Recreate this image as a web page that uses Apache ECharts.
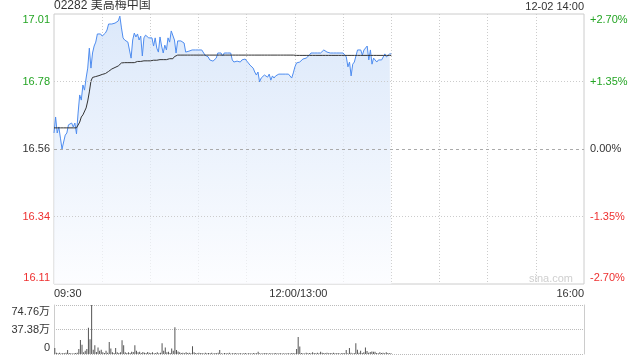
<!DOCTYPE html>
<html><head><meta charset="utf-8">
<script src="https://cdn.jsdelivr.net/npm/echarts@6/dist/echarts.min.js"></script>
<style>html,body{margin:0;padding:0;background:#fff}#c{width:640px;height:360px}</style>
</head><body><div id="c"></div>
<script>
const stockTitle = '02282 美高梅中国';
const stampText = '12-02 14:00';
const watermark = 'sina.com';
const prevClose = 16.56;
const pctMax = 2.7;
const pctStep = 1.35;
const timeTickLabels = ['09:30', '12:00/13:00', '16:00'];
const volumeTickLabels = ['0', '37.38万', '74.76万'];
const volumeMax = 747600;

const price = [
16.613,16.666,16.613,16.633,16.596,16.560,16.560,16.606,16.613,16.640,
16.636,16.646,16.633,16.646,16.610,16.679,16.739,16.722,16.772,16.755,
16.795,16.828,16.894,16.828,16.878,16.901,16.914,16.941,16.944,16.941,
16.934,16.928,16.944,16.954,16.974,16.971,16.974,16.971,16.977,16.974,
16.984,17.000,16.961,16.928,16.921,16.921,16.914,16.908,16.861,16.921,
16.944,16.931,16.941,16.921,16.934,16.868,16.928,16.937,16.931,16.928,
16.928,16.928,16.901,16.928,16.894,16.881,16.931,16.901,16.878,16.904,
16.888,16.928,16.914,16.951,16.957,16.921,16.878,16.918,16.918,16.918,
16.918,16.911,16.881,16.884,16.884,16.878,16.888,16.888,16.888,16.888,
16.888,16.888,16.888,16.888,16.871,16.865,16.865,16.855,16.855,16.851,
16.851,16.861,16.878,16.878,16.878,16.868,16.878,16.878,16.878,16.878,
16.878,16.855,16.848,16.851,16.851,16.845,16.848,16.855,16.858,16.858,
16.858,16.845,16.838,16.835,16.828,16.815,16.805,16.815,16.782,16.795,
16.798,16.805,16.805,16.798,16.808,16.788,16.802,16.795,16.802,16.808,
16.808,16.808,16.808,16.808,16.808,16.808,16.808,16.802,16.795,16.812,
16.832,16.845,16.848,16.848,16.851,16.858,16.858,16.861,16.861,16.871,
16.878,16.878,16.878,16.878,16.878,16.878,16.878,16.884,16.888,16.888,
16.881,16.884,16.878,16.878,16.878,16.878,16.878,16.878,16.878,16.878,
16.878,16.878,16.865,16.832,16.848,16.802,16.841,16.848,16.848,16.888,
16.888,16.888,16.871,16.888,16.894,16.901,16.855,16.888,16.841,16.861,
16.855,16.848,16.855,16.861,16.855,16.861,16.875,16.865,16.871,16.875,
16.875
];

const avgPrice = [
16.630,16.630,16.630,16.630,16.630,16.630,16.630,16.630,16.630,16.630,
16.630,16.630,16.630,16.630,16.630,16.630,16.649,16.666,16.673,16.679,
16.696,16.719,16.749,16.785,16.797,16.798,16.800,16.802,16.803,16.805,
16.807,16.808,16.810,16.813,16.817,16.820,16.825,16.827,16.830,16.833,
16.835,16.838,16.845,16.846,16.846,16.846,16.846,16.846,16.846,16.846,
16.846,16.850,16.850,16.850,16.850,16.850,16.852,16.852,16.852,16.852,
16.852,16.854,16.854,16.854,16.854,16.854,16.856,16.856,16.856,16.856,
16.856,16.859,16.859,16.859,16.859,16.866,16.871,16.871,16.871,16.871,
16.871,16.871,16.871,16.871,16.871,16.871,16.871,16.871,16.871,16.871,
16.871,16.871,16.871,16.871,16.871,16.871,16.871,16.871,16.871,16.871,
16.871,16.871,16.871,16.871,16.871,16.871,16.871,16.871,16.871,16.871,
16.871,16.871,16.871,16.871,16.871,16.871,16.871,16.871,16.871,16.871,
16.871,16.871,16.871,16.871,16.871,16.871,16.871,16.871,16.871,16.871,
16.871,16.871,16.871,16.871,16.871,16.871,16.871,16.871,16.871,16.871,
16.871,16.871,16.871,16.871,16.871,16.871,16.871,16.871,16.871,16.871,
16.871,16.870,16.870,16.870,16.870,16.870,16.870,16.870,16.870,16.870,
16.870,16.870,16.870,16.870,16.870,16.870,16.870,16.870,16.870,16.870,
16.870,16.870,16.870,16.870,16.870,16.870,16.870,16.870,16.870,16.870,
16.870,16.870,16.870,16.870,16.870,16.870,16.870,16.870,16.870,16.870,
16.870,16.870,16.870,16.870,16.870,16.870,16.870,16.870,16.870,16.870,
16.870,16.870,16.870,16.870,16.870,16.870,16.870,16.870,16.870,16.870,
16.870
];

const volume = [
90000,20000,12000,18000,8000,15000,10000,20000,60000,15000,
12000,8000,10000,15000,20000,75000,214000,140000,25000,50000,
75000,399000,224000,747000,65000,135000,30000,100000,50000,65000,
25000,15000,50000,20000,184000,85000,25000,15000,90000,25000,
15000,25000,209000,135000,25000,15000,25000,15000,35000,30000,
135000,50000,25000,35000,15000,30000,20000,15000,30000,20000,
15000,25000,10000,15000,25000,10000,20000,164000,50000,100000,
25000,35000,15000,85000,50000,409000,60000,40000,25000,15000,
20000,10000,25000,15000,20000,10000,120000,25000,15000,10000,
20000,12000,15000,8000,18000,10000,15000,12000,20000,8000,
15000,10000,18000,60000,12000,8000,15000,10000,12000,18000,
8000,12000,10000,15000,8000,12000,10000,6000,12000,15000,
8000,10000,12000,8000,15000,10000,12000,35000,10000,8000,
12000,10000,15000,8000,10000,12000,8000,10000,15000,8000,
10000,12000,8000,10000,6000,12000,10000,8000,15000,10000,
12000,75000,259000,115000,15000,10000,8000,20000,12000,15000,
10000,25000,15000,12000,18000,10000,35000,20000,15000,10000,
20000,12000,15000,10000,18000,12000,10000,15000,8000,12000,
15000,10000,60000,10000,90000,20000,8000,15000,164000,65000,
20000,50000,15000,25000,100000,45000,20000,30000,40000,35000,
35000,15000,10000,25000,15000,20000,10000,25000,15000,10000,
12000
];

// minute categories: 09:30..12:00, 13:01..16:00
function pad(n){ return (n < 10 ? '0' : '') + n; }
const times = [];
for (let m = 9*60+30; m <= 12*60; m++) times.push(pad(Math.floor(m/60)) + ':' + pad(m%60));
for (let m = 13*60+1; m <= 16*60; m++) times.push(pad(Math.floor(m/60)) + ':' + pad(m%60));
const labelIdx = [0, 150, times.length - 1];

const toPct = p => (p - prevClose) / prevClose * 100;
const pricePct = price.map(toPct);
const avgPct = avgPrice.map(toPct);

const FONT = "'Liberation Sans', Arial, 'Noto Sans CJK SC', sans-serif";
const GREEN = '#24a524';
const RED = '#ee3030';
const TXT = '#333';
const GRIDC = '#cccccc';
const colorFor = v => { v = parseFloat(v); return v > 0.001 ? GREEN : (v < -0.001 ? RED : TXT); };
const edgeRich = {
  t: { padding: [12, 0, 0, 0], fontSize: 11, fontFamily: FONT },
  b: { padding: [0, 0, 12, 0], fontSize: 11, fontFamily: FONT }
};
const wrapEdge = (v, s) => {
  v = parseFloat(v);
  if (v >= pctMax - 0.001) return '{t|' + s + '}';
  if (v <= -pctMax + 0.001) return '{b|' + s + '}';
  return s;
};

const chart = echarts.init(document.getElementById('c'), null, { renderer: 'canvas' });
chart.setOption({
  animation: false,
  backgroundColor: '#fff',
  textStyle: { fontFamily: FONT },
  title: [
    { text: stockTitle, left: 54, top: 0, padding: 0,
      textStyle: { fontSize: 12, fontWeight: 'normal', color: TXT, fontFamily: FONT } },
    { text: stampText, right: 56, top: 1, padding: 0,
      textStyle: { fontSize: 11, fontWeight: 'normal', color: TXT, fontFamily: FONT } }
  ],
  graphic: [
    { type: 'text', z: 100, silent: true,
      style: { x: 573, y: 279, text: watermark, textAlign: 'right', textVerticalAlign: 'middle',
               fill: '#cfcfcf', font: '11px ' + FONT } }
  ],
  grid: [
    { left: 54, right: 56, top: 14, height: 270, show: true, borderColor: GRIDC, borderWidth: 1, backgroundColor: 'transparent' },
    { left: 54, right: 56, top: 305, height: 49, show: false }
  ],
  xAxis: [
    { type: 'category', gridIndex: 0, data: times, boundaryGap: false,
      axisLine: { show: false }, axisTick: { show: false },
      splitLine: { show: true, interval: (i) => i % 30 === 0 && i > 0 && i < times.length - 1,
                   lineStyle: { color: GRIDC, type: [1, 2], width: 1 } },
      axisLabel: { show: true, interval: (i) => labelIdx.indexOf(i) >= 0, margin: 4,
                   color: TXT, fontSize: 11, fontFamily: FONT,
                   alignMinLabel: 'left', alignMaxLabel: 'right',
                   formatter: (v, i) => { const k = labelIdx.indexOf(i); if (k === 1) return '{m|' + timeTickLabels[k] + '}'; return k >= 0 ? timeTickLabels[k] : ''; },
                   rich: { m: { padding: [0, 0, 0, 7], fontSize: 11, fontFamily: FONT } } } },
    { type: 'category', gridIndex: 1, data: times, boundaryGap: true,
      axisLine: { show: false }, axisTick: { show: false }, axisLabel: { show: false }, splitLine: { show: false } }
  ],
  yAxis: [
    { type: 'value', gridIndex: 0, position: 'left', min: -pctMax, max: pctMax, interval: pctStep,
      axisLine: { show: false }, axisTick: { show: false }, splitLine: { show: false },
      axisLabel: { margin: 4, fontSize: 11, fontFamily: FONT, color: colorFor, rich: edgeRich,
                   formatter: v => wrapEdge(v, (prevClose * (1 + v / 100)).toFixed(2)) } },
    { type: 'value', gridIndex: 0, position: 'right', min: -pctMax, max: pctMax, interval: pctStep,
      axisLine: { show: false }, axisTick: { show: false }, splitLine: { show: false },
      axisLabel: { margin: 6, fontSize: 11, fontFamily: FONT, color: colorFor, rich: edgeRich,
                   formatter: v => { const a = Math.abs(v) < 1e-6 ? 0 : v; const s = (a > 0 ? '+' : '') + a.toFixed(2) + '%'; return wrapEdge(v, s); } } },
    { type: 'value', gridIndex: 1, position: 'left', min: 0, max: volumeMax, interval: volumeMax / 2,
      axisLine: { show: true, lineStyle: { color: GRIDC } }, axisTick: { show: false },
      splitLine: { show: true, lineStyle: { color: '#bbbbbb', type: [1, 1] } },
      axisLabel: { margin: 4, fontSize: 11, fontFamily: FONT, color: TXT,
                   rich: { t: { padding: [13, 0, 0, 0], fontSize: 11, fontFamily: FONT },
                           b: { padding: [0, 0, 12, 0], fontSize: 11, fontFamily: FONT } },
                   formatter: (v, i) => i === 0 ? '{b|' + volumeTickLabels[0] + '}' : (i === 2 ? '{t|' + volumeTickLabels[2] + '}' : volumeTickLabels[i]) } },
    { type: 'value', gridIndex: 1, position: 'right', min: 0, max: volumeMax,
      axisLine: { show: true, lineStyle: { color: GRIDC } }, axisTick: { show: false },
      splitLine: { show: false }, axisLabel: { show: false } }
  ],
  series: [
    { name: 'price', type: 'line', xAxisIndex: 0, yAxisIndex: 0, data: pricePct,
      showSymbol: false, symbol: 'none', silent: true,
      lineStyle: { color: '#4f8df0', width: 1 },
      areaStyle: { origin: 'start',
        color: new echarts.graphic.LinearGradient(0, 0, 0, 1, [
          { offset: 0, color: '#cddff8' }, { offset: 1, color: '#fbfcff' }]) },
      markLine: { silent: true, symbol: 'none', label: { show: false }, animation: false,
        data: [
          { yAxis: pctStep, lineStyle: { color: GRIDC, type: [1, 2], width: 1 } },
          { yAxis: -pctStep, lineStyle: { color: GRIDC, type: [1, 2], width: 1 } },
          { yAxis: 0, lineStyle: { color: '#aaaaaa', type: [3, 3], width: 1 } }
        ] } },
    { name: 'avg', type: 'line', xAxisIndex: 0, yAxisIndex: 0, data: avgPct,
      showSymbol: false, symbol: 'none', silent: true,
      lineStyle: { color: '#333333', width: 1 } },
    { name: 'volume', type: 'bar', xAxisIndex: 1, yAxisIndex: 2, data: volume,
      barWidth: 1, silent: true, itemStyle: { color: '#555555' } }
  ]
});
</script>
</body></html>
